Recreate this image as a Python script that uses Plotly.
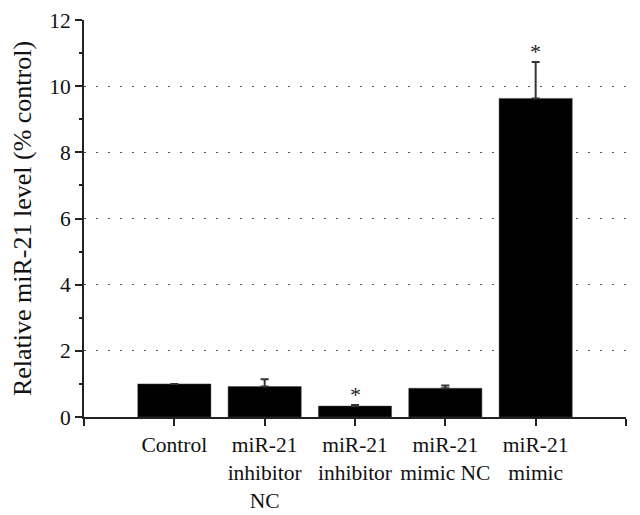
import plotly.graph_objects as go

# bar data
groups = ["Control", "miR-21<br>inhibitor<br>NC", "miR-21<br>inhibitor",
          "miR-21<br>mimic NC", "miR-21<br>mimic"]
positions = [1, 2, 3, 4, 5]
levels = [1.0, 0.92, 0.33, 0.87, 9.63]
errors = [None, 0.22, 0.03, 0.08, 1.1]
significant = [False, False, True, False, True]

FONT = "Liberation Serif"

fig = go.Figure()
fig.add_trace(go.Bar(
    x=positions, y=levels, width=0.81,
    marker=dict(color="black", line=dict(color="#444", width=0.5)),
    error_y=dict(type="data", array=errors, arrayminus=[0] * len(errors),
                 symmetric=False, visible=True, color="#333", thickness=2, width=4),
    showlegend=False,
))

# asterisks over the significant groups
for x, y, e, s in zip(positions, levels, errors, significant):
    if s:
        fig.add_annotation(x=x, y=y + e, text="*", showarrow=False,
                           yanchor="bottom", yshift=-4,
                           font=dict(family=FONT, size=22, color="#222"))

# page body adds an 8px offset, so the figure is sized to fit the window
fig.update_layout(
    width=632, height=507,
    margin=dict(l=76, r=14, t=12, b=98),
    plot_bgcolor="white", paper_bgcolor="white",
    font=dict(family=FONT, size=21.5, color="#111"),
)
fig.update_xaxes(
    range=[0, 6], tickvals=[0, 1, 2, 3, 4, 5, 6],
    ticktext=[""] + groups + [""],
    showline=True, linecolor="#222", linewidth=2,
    ticks="outside", ticklen=7, tickwidth=2, tickcolor="#222",
    showgrid=False, zeroline=False, automargin=False,
)
fig.update_yaxes(
    range=[0, 12], tickvals=[0, 2, 4, 6, 8, 10, 12],
    title=dict(text="Relative miR-21 level (% control)", standoff=12),
    showline=True, linecolor="#222", linewidth=2,
    ticks="outside", ticklen=7, tickwidth=2, tickcolor="#222",
    minor=dict(dtick=1, ticks="outside", ticklen=3, tickwidth=1.5, tickcolor="#222", showgrid=False),
    showgrid=True, gridcolor="#555", griddash="2px,10px", gridwidth=1,
    zeroline=False, automargin=False,
)

fig.write_html("out.html")
